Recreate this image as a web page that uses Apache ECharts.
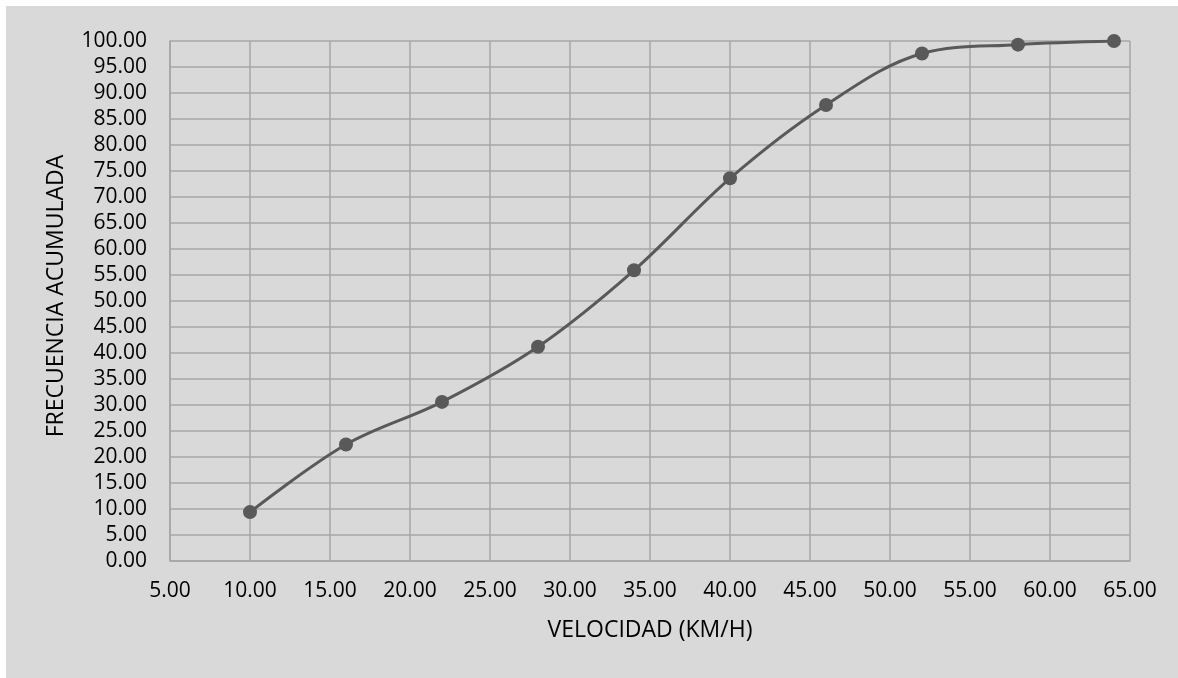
<!DOCTYPE html>
<html>
<head>
<meta charset="utf-8">
<script src="https://cdn.jsdelivr.net/npm/echarts@6/dist/echarts.min.js"></script>
<style>
html,body{margin:0;padding:0;background:#fff;width:1178px;height:678px;overflow:hidden;}
#chart{position:absolute;left:6px;top:6px;width:1172px;height:672px;}
</style>
</head>
<body>
<div id="chart"></div>
<script>
const velocidad = [10, 16, 22, 28, 34, 40, 46, 52, 58, 64];
const frecuenciaAcumulada = [9.4, 22.4, 30.6, 41.2, 55.9, 73.6, 87.7, 97.6, 99.3, 100.0];
const xAxisName = 'VELOCIDAD (KM/H)';
const yAxisName = 'FRECUENCIA ACUMULADA';

const chart = echarts.init(document.getElementById('chart'));
const font = '"Open Sans", sans-serif';
const fs = 21;
const nfs = 23;
chart.setOption({
  backgroundColor: '#d9d9d9',
  animation: false,
  textStyle: { fontFamily: font },
  grid: { left: 164, right: 48, top: 35, bottom: 117 },
  xAxis: {
    type: 'value', min: 5, max: 65, interval: 5,
    name: xAxisName, nameLocation: 'middle', nameGap: 58,
    nameTextStyle: { color: '#000', fontSize: nfs, fontFamily: font },
    axisLine: { show: true, lineStyle: { color: '#a6a6a6', width: 1.5 } },
    axisTick: { show: false },
    axisLabel: { color: '#000', fontSize: fs, margin: 20, fontFamily: font, formatter: v => v.toFixed(2) },
    splitLine: { show: true, lineStyle: { color: '#a6a6a6', width: 1.5 } }
  },
  yAxis: {
    type: 'value', min: 0, max: 100, interval: 5,
    name: yAxisName, nameLocation: 'middle', nameGap: 102,
    nameTextStyle: { color: '#000', fontSize: nfs, fontFamily: font, padding: [0, 0, 0, 10] },
    axisLine: { show: true, lineStyle: { color: '#a6a6a6', width: 1.5 } },
    axisTick: { show: false },
    axisLabel: { color: '#000', fontSize: fs, margin: 23, fontFamily: font, formatter: v => v.toFixed(2) },
    splitLine: { show: true, lineStyle: { color: '#a6a6a6', width: 1.5 } }
  },
  series: [{
    type: 'line',
    data: velocidad.map((v, i) => [v, frecuenciaAcumulada[i]]),
    smooth: 0.35,
    symbol: 'circle', symbolSize: 14,
    lineStyle: { color: '#595959', width: 3 },
    itemStyle: { color: '#595959' }
  }]
});
</script>
</body>
</html>
